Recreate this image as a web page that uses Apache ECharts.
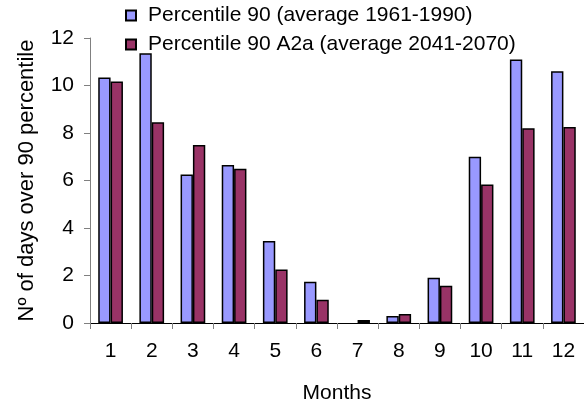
<!DOCTYPE html>
<html><head><meta charset="utf-8">
<script src="https://cdn.jsdelivr.net/npm/echarts@6/dist/echarts.min.js"></script>
<style>html,body{margin:0;padding:0;background:#fff}#c{width:584px;height:410px}</style>
</head><body><div id="c"></div>
<script>
const months = ['1','2','3','4','5','6','7','8','9','10','11','12'];
const p90_1961_1990 = [10.34, 11.36, 6.25, 6.65, 3.45, 1.74, 0, 0.3, 1.91, 7.0, 11.1, 10.6];
const p90_a2a_2041_2070 = [10.17, 8.45, 7.5, 6.5, 2.25, 0.98, 0.13, 0.38, 1.57, 5.83, 8.2, 8.25];
const seriesNames = ['Percentile 90 (average 1961-1990)', 'Percentile 90 A2a (average 2041-2070)'];
const yTicks = [0, 2, 4, 6, 8, 10, 12];

const font = 'Liberation Sans, Arial, sans-serif';
const hideZero = arr => arr.map(v => (v === 0 ? null : v));
const chart = echarts.init(document.getElementById('c'));
chart.setOption({
  animation: false,
  textStyle: { fontFamily: font },
  legend: {
    orient: 'vertical', left: 120, top: 0,
    icon: 'rect', itemWidth: 10, itemHeight: 10, itemGap: 8,
    textStyle: { fontSize: 21, color: '#000', fontFamily: font, padding: [0, 0, 0, 7] },
    data: seriesNames
  },
  grid: { left: 90, right: -1, top: 38, bottom: 87, containLabel: false },
  xAxis: {
    type: 'category', data: months,
    name: 'Months', nameLocation: 'middle', nameGap: 60,
    nameTextStyle: { fontSize: 21, color: '#000', fontFamily: font },
    axisLine: { lineStyle: { color: '#000', width: 1 } },
    axisTick: { show: true, length: 6, lineStyle: { color: '#808080' } },
    axisLabel: { fontSize: 21, color: '#000', margin: 18, fontFamily: font }
  },
  yAxis: {
    type: 'value', min: yTicks[0], max: yTicks[yTicks.length - 1], interval: 2,
    name: 'Nº of days over 90 percentile', nameLocation: 'middle', nameGap: 52,
    nameTextStyle: { fontSize: 22, color: '#000', fontFamily: font },
    axisLine: { show: true, lineStyle: { color: '#808080', width: 1 } },
    axisTick: { show: true, length: 6, lineStyle: { color: '#808080' } },
    axisLabel: { fontSize: 21, color: '#000', margin: 16, fontFamily: font },
    splitLine: { show: false }
  },
  series: [
    { name: seriesNames[0], type: 'bar', data: hideZero(p90_1961_1990), barGap: '0%', barCategoryGap: '40%',
      itemStyle: { color: '#9999FF', borderColor: '#000', borderWidth: 1.5 } },
    { name: seriesNames[1], type: 'bar', data: hideZero(p90_a2a_2041_2070), barGap: '0%', barCategoryGap: '40%',
      itemStyle: { color: '#993366', borderColor: '#000', borderWidth: 1.5 } }
  ]
});
</script></body></html>
